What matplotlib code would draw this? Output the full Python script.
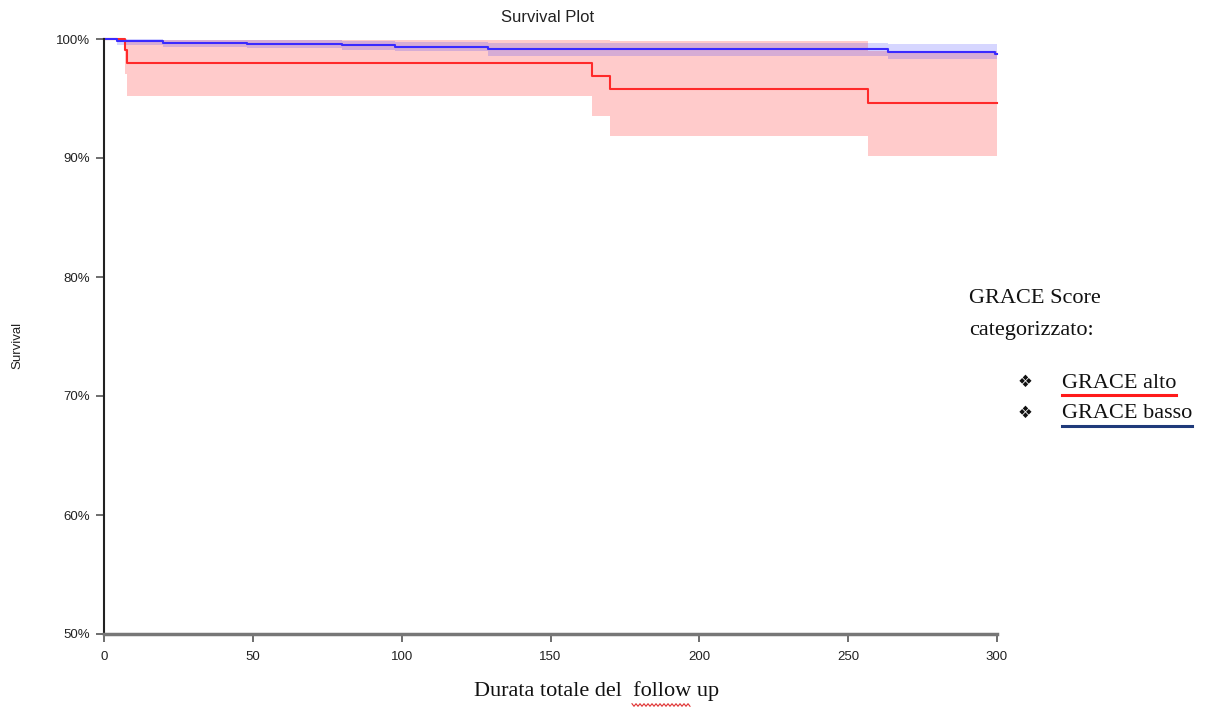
import numpy as np
import matplotlib
matplotlib.use("Agg")
import matplotlib.pyplot as plt
from matplotlib.ticker import FuncFormatter

# ---- data ----
alto_time = [0, 7.0, 7.8, 163.8, 170.0, 256.8, 300]
alto_surv = [100, 99.1, 98.0, 96.9, 95.8, 94.65, 94.65]
alto_low = [100, 97.1, 95.2, 93.5, 91.85, 90.2, 90.2]
alto_up = [100, 100, 99.9, 99.9, 99.8, 99.0, 99.0]

basso_time = [0, 4.3, 19.9, 48.0, 79.8, 97.8, 129.1, 263.4, 299.3, 300]
basso_surv = [100, 99.83, 99.69, 99.6, 99.47, 99.35, 99.16, 98.88, 98.75, 98.75]
basso_low = [100, 99.5, 99.35, 99.25, 99.05, 98.95, 98.6, 98.35, 98.3, 98.3]
basso_up = [100, 100, 99.95, 99.9, 99.8, 99.75, 99.65, 99.6, 99.6, 99.6]

x_ticks = [0, 50, 100, 150, 200, 250, 300]
y_ticks = [50, 60, 70, 80, 90, 100]

title = "Survival Plot"
xlabel = "Durata totale del  follow up"
ylabel = "Survival"
legend_title = ["GRACE Score", "categorizzato:"]
legend_items = ["GRACE alto", "GRACE basso"]
legend_colors = ["#ff1a1a", "#1f3a7a"]

RED = "#ff2a2a"
BLUE = "#3a2aff"

fig = plt.figure(figsize=(12.07, 7.08), dpi=100)
ax = fig.add_axes([104 / 1207, 1 - 634 / 708, (997 - 104) / 1207, (634 - 39) / 708])

ax.fill_between(alto_time, alto_low, alto_up, step="post", color="#ff3333", alpha=0.25, lw=0)
ax.fill_between(basso_time, basso_low, basso_up, step="post", color="#3333ff", alpha=0.2, lw=0)
ax.step(alto_time, alto_surv, where="post", color=RED, lw=1.5, clip_on=False)
ax.step(basso_time, basso_surv, where="post", color=BLUE, lw=1.5, clip_on=False)

ax.set_xlim(0, 300)
ax.set_ylim(50, 100)
ax.set_xticks(x_ticks)
ax.set_yticks(y_ticks)
ax.yaxis.set_major_formatter(FuncFormatter(lambda v, p: f"{int(v)}%"))

for s in ["top", "right"]:
    ax.spines[s].set_visible(False)
ax.spines["left"].set_color("#222222")
ax.spines["left"].set_linewidth(1.5)
ax.spines["bottom"].set_color("#777777")
ax.spines["bottom"].set_linewidth(2.5)
ax.tick_params(axis="both", direction="out", length=6, width=1.2, color="#555555",
               labelsize=9.5, labelcolor="#222222")
ax.tick_params(axis="x", pad=6)
ax.tick_params(axis="y", pad=4)
for lab in ax.get_xticklabels() + ax.get_yticklabels():
    lab.set_family("Liberation Sans")

fig.text(548 / 1207, 1 - 18 / 708, title, ha="center", va="center",
         fontsize=12, family="Liberation Sans", color="#222222")
fig.text(17 / 1207, 1 - 345 / 708, ylabel, ha="center", va="center", rotation=90,
         fontsize=9.5, family="Liberation Sans", color="#222222")
fig.text(597 / 1207, 1 - 691 / 708, xlabel, ha="center", va="center",
         fontsize=16, family="Liberation Serif", color="#111111")

# spell-check squiggle under "follow"
sq_x = np.linspace(632, 690, 30)
sq_y = 705 + 1.3 * np.where(np.arange(30) % 2 == 0, -1, 1)
fig.add_artist(plt.Line2D(sq_x / 1207, 1 - sq_y / 708, color="#e03030", lw=0.8))

fig.text(969 / 1207, 1 - 298 / 708, legend_title[0], ha="left", va="center",
         fontsize=16, family="Liberation Serif", color="#111111")
fig.text(969 / 1207, 1 - 330 / 708, legend_title[1], ha="left", va="center",
         fontsize=16, family="Liberation Serif", color="#111111")

ys = [383, 414]
for item, col, yy in zip(legend_items, legend_colors, ys):
    fig.text(1025 / 1207, 1 - yy / 708, "\u2756", ha="center", va="center",
             fontsize=12, family=["Liberation Serif", "DejaVu Sans"], color="#111111")
    t = fig.text(1062 / 1207, 1 - yy / 708, item, ha="left", va="center",
                 fontsize=16, family="Liberation Serif", color="#111111")
    fig.canvas.draw()
    bb = t.get_window_extent()
    uy = 1 - (yy + 12) / 708
    fig.add_artist(plt.Line2D([bb.x0 / 1207, bb.x1 / 1207], [uy, uy], color=col, lw=2.2))

fig.savefig("out.png", dpi=100)
